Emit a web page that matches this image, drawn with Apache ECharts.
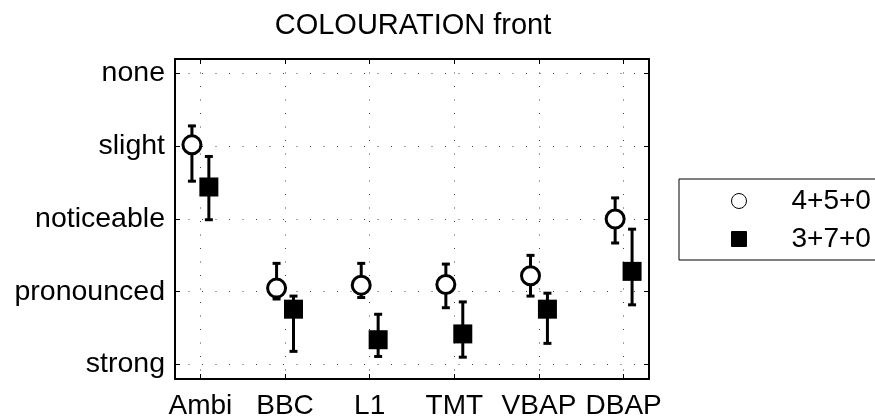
<!DOCTYPE html>
<html>
<head>
<meta charset="utf-8">
<script src="https://cdn.jsdelivr.net/npm/echarts@6/dist/echarts.min.js"></script>
<style>
  html, body { margin: 0; padding: 0; background: #fff; }
  #chart { width: 875px; height: 418px; }
</style>
</head>
<body>
<div id="chart"></div>
<script>
// Rendering systems on the x axis (positions 1..6)
const categories = ['Ambi', 'BBC', 'L1', 'TMT', 'VBAP', 'DBAP'];
// Rating scale, from value 1 (bottom) to value 5 (top)
const ratingLabels = ['strong', 'pronounced', 'noticeable', 'slight', 'none'];

// Layout "4+5+0": mean and confidence interval per system
const mean450 = [4.02, 2.05, 2.09, 2.10, 2.22, 3.00];
const low450  = [3.52, 1.90, 1.92, 1.78, 1.94, 2.67];
const high450 = [4.28, 2.39, 2.39, 2.38, 2.50, 3.29];

// Layout "3+7+0": mean and confidence interval per system
const mean370 = [3.44, 1.76, 1.34, 1.42, 1.76, 2.28];
const low370  = [2.99, 1.18, 1.11, 1.10, 1.29, 1.82];
const high370 = [3.86, 1.94, 1.69, 1.86, 1.98, 2.86];

const seriesNames = ['4+5+0', '3+7+0'];
const xOffset = 0.1;

const FONT = "'Liberation Sans', Arial, Helvetica, sans-serif";
const tickPositions = categories.map((_, i) => i + 1);
const ratingPositions = ratingLabels.map((_, i) => i + 1);

function pointData(means, shift) {
  return means.map((m, i) => [i + 1 + shift, m]);
}
function barData(lows, highs, shift) {
  return lows.map((lo, i) => [i + 1 + shift, lo, highs[i]]);
}

function renderErrorBar(params, api) {
  const x = api.value(0);
  const pLo = api.coord([x, api.value(1)]);
  const pHi = api.coord([x, api.value(2)]);
  const half = 4;
  const style = { stroke: '#000', lineWidth: 3 };
  return {
    type: 'group',
    children: [
      { type: 'line', shape: { x1: pLo[0], y1: pLo[1], x2: pHi[0], y2: pHi[1] }, style: style },
      { type: 'line', shape: { x1: pLo[0] - half, y1: pLo[1], x2: pLo[0] + half, y2: pLo[1] }, style: style },
      { type: 'line', shape: { x1: pHi[0] - half, y1: pHi[1], x2: pHi[0] + half, y2: pHi[1] }, style: style }
    ]
  };
}

const gridLine = { show: true, lineStyle: { color: '#444', width: 1, type: [1, 12.5] } };
const frameLine = { show: true, lineStyle: { color: '#000', width: 2 } };
const innerTick = { show: true, inside: true, length: 5, lineStyle: { color: '#000', width: 1 } };

const chart = echarts.init(document.getElementById('chart'), null, { renderer: 'canvas' });

chart.setOption({
  animation: false,
  backgroundColor: '#fff',
  textStyle: { fontFamily: FONT },
  title: {
    text: 'COLOURATION front',
    left: 413,
    top: 11,
    padding: 0,
    textAlign: 'center',
    textStyle: { fontFamily: FONT, fontSize: 29, fontWeight: 'normal', color: '#000' }
  },
  grid: { left: 175, right: 226, top: 59, bottom: 39, containLabel: false, outerBoundsMode: 'none' },
  legend: {
    left: 679,
    top: 179,
    orient: 'vertical',
    padding: [8, 40, 7, 52],
    itemWidth: 15,
    itemHeight: 15,
    itemGap: 10,
    borderColor: '#000',
    borderWidth: 1,
    itemStyle: { borderWidth: 1 },
    textStyle: { fontFamily: FONT, fontSize: 28, color: '#000', lineHeight: 28, padding: [0, 0, 0, 40] },
    data: seriesNames
  },
  xAxis: [
    {
      type: 'value', min: 0.7, max: 6.3, position: 'bottom',
      axisLine: frameLine,
      axisTick: Object.assign({ customValues: tickPositions }, innerTick),
      axisLabel: {
        customValues: tickPositions, margin: 13,
        fontFamily: FONT, fontSize: 28, color: '#000',
        formatter: v => categories[Math.round(v) - 1] || ''
      },
      splitLine: gridLine
    },
    {
      type: 'value', min: 0.7, max: 6.3, position: 'top',
      axisLine: frameLine,
      axisTick: Object.assign({ customValues: tickPositions }, innerTick),
      axisLabel: { show: false },
      splitLine: { show: false }
    }
  ],
  yAxis: [
    {
      type: 'value', min: 0.8, max: 5.2, position: 'left',
      axisLine: frameLine,
      axisTick: Object.assign({ customValues: ratingPositions }, innerTick),
      axisLabel: {
        customValues: ratingPositions, margin: 10,
        fontFamily: FONT, fontSize: 28.5, color: '#000',
        formatter: v => ratingLabels[Math.round(v) - 1] || ''
      },
      splitLine: gridLine
    },
    {
      type: 'value', min: 0.8, max: 5.2, position: 'right',
      axisLine: frameLine,
      axisTick: Object.assign({ customValues: ratingPositions }, innerTick),
      axisLabel: { show: false },
      splitLine: { show: false }
    }
  ],
  series: [
    {
      name: seriesNames[0] + ' range', type: 'custom', xAxisIndex: 0, yAxisIndex: 0,
      renderItem: renderErrorBar, data: barData(low450, high450, -xOffset), z: 2, silent: true
    },
    {
      name: seriesNames[1] + ' range', type: 'custom', xAxisIndex: 0, yAxisIndex: 0,
      renderItem: renderErrorBar, data: barData(low370, high370, xOffset), z: 2, silent: true
    },
    {
      name: seriesNames[0], type: 'scatter', xAxisIndex: 0, yAxisIndex: 0,
      symbol: 'circle', symbolSize: 18,
      itemStyle: { color: '#fff', borderColor: '#000', borderWidth: 3, opacity: 1 },
      data: pointData(mean450, -xOffset), z: 5
    },
    {
      name: seriesNames[1], type: 'scatter', xAxisIndex: 0, yAxisIndex: 0,
      symbol: 'rect', symbolSize: 19,
      itemStyle: { color: '#000', borderColor: '#000', borderWidth: 0, opacity: 1 },
      data: pointData(mean370, xOffset), z: 5
    }
  ]
});
</script>
</body>
</html>
